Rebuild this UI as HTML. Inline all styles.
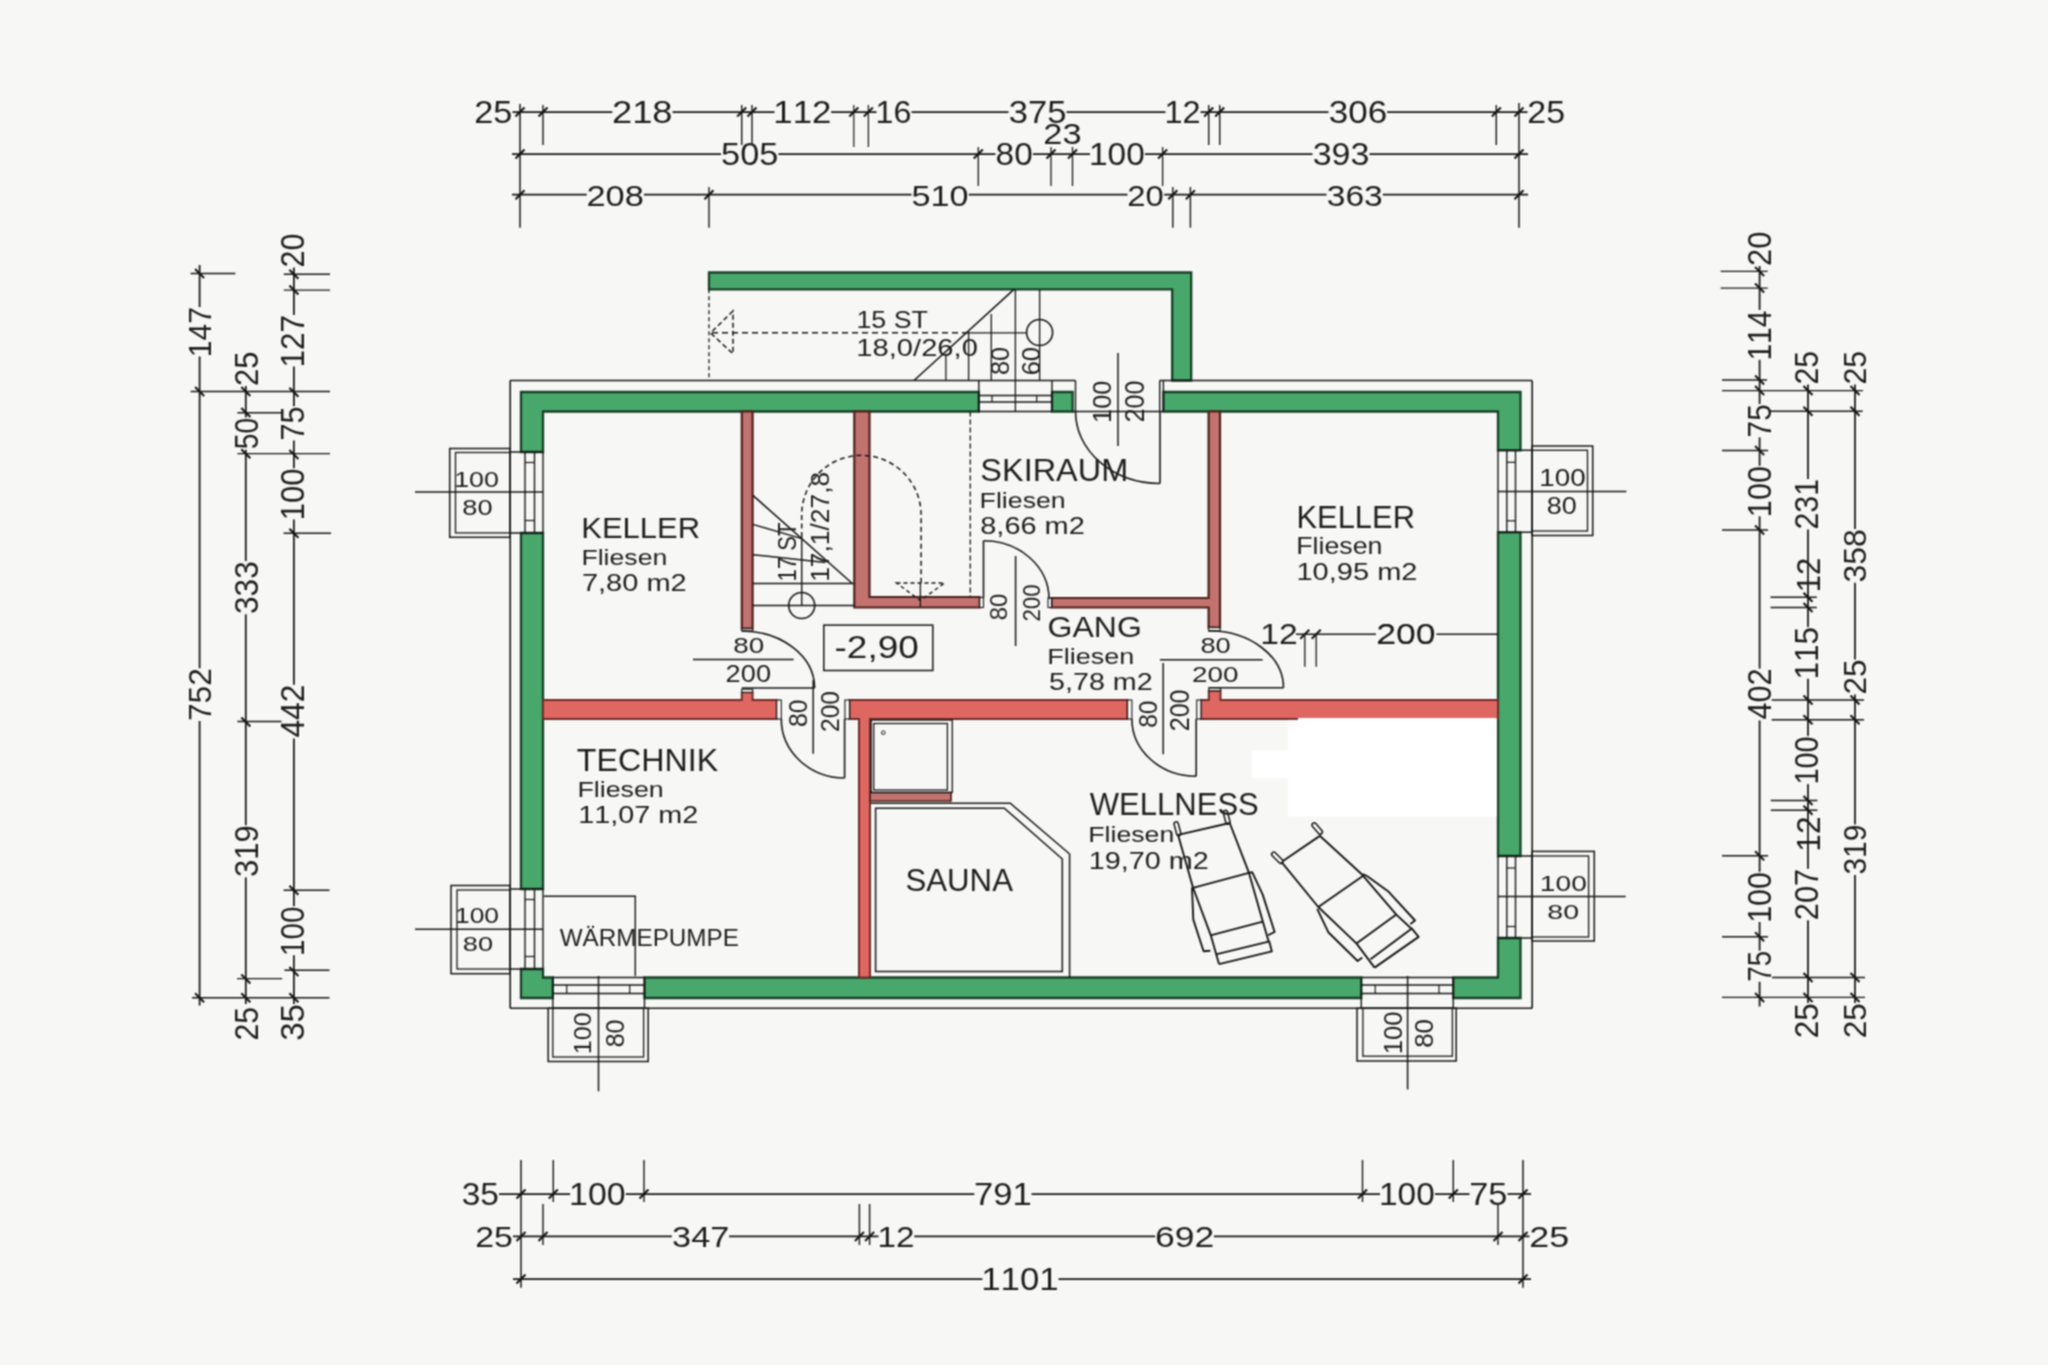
<!DOCTYPE html>
<html><head><meta charset="utf-8"><style>
html,body{margin:0;padding:0;background:#f7f8f6;}
svg{display:block;}
text{font-family:"Liberation Sans",sans-serif;fill:#1e1e1e;stroke:none;font-kerning:none;}
</style></head><body>
<svg xmlns="http://www.w3.org/2000/svg" width="2048" height="1365" viewBox="0 0 2048 1365">
<defs><filter id="b" x="0" y="0" width="2048" height="1365" filterUnits="userSpaceOnUse" color-interpolation-filters="sRGB"><feConvolveMatrix order="3" kernelMatrix="1 2 1 2 4 2 1 2 1" divisor="16" edgeMode="duplicate"/></filter></defs>
<g filter="url(#b)">
<rect width="2048" height="1365" fill="#f7f8f6"/>
<g stroke="#161616" stroke-linecap="butt" fill="none">
<path d="M709 272.5 L1191.2 272.5 L1191.2 380.5 L1172.2 380.5 L1172.2 289.3 L709 289.3 Z" fill="#48a86c" stroke="#173f26" stroke-width="2.3" stroke-linejoin="miter"/>
<path d="M521 392 L978.8 392 L978.8 411.5 L543 411.5 L543 452 L521 452 Z" fill="#48a86c" stroke="#173f26" stroke-width="2.3" stroke-linejoin="miter"/>
<path d="M1052 392 L1072.6 392 L1072.6 411.5 L1052 411.5 Z" fill="#48a86c" stroke="#173f26" stroke-width="2.3" stroke-linejoin="miter"/>
<path d="M1163.4 392 L1520.5 392 L1520.5 450.3 L1498 450.3 L1498 411.5 L1163.4 411.5 Z" fill="#48a86c" stroke="#173f26" stroke-width="2.3" stroke-linejoin="miter"/>
<path d="M521 533 L543 533 L543 889 L521 889 Z" fill="#48a86c" stroke="#173f26" stroke-width="2.3" stroke-linejoin="miter"/>
<path d="M1498 532.3 L1520.5 532.3 L1520.5 856 L1498 856 Z" fill="#48a86c" stroke="#173f26" stroke-width="2.3" stroke-linejoin="miter"/>
<path d="M521 969 L543 969 L543 977.5 L552.8 977.5 L552.8 998 L521 998 Z" fill="#48a86c" stroke="#173f26" stroke-width="2.3" stroke-linejoin="miter"/>
<path d="M644.5 977.5 L1361.3 977.5 L1361.3 998 L644.5 998 Z" fill="#48a86c" stroke="#173f26" stroke-width="2.3" stroke-linejoin="miter"/>
<path d="M1453.3 977.5 L1498 977.5 L1498 938 L1520.5 938 L1520.5 998 L1453.3 998 Z" fill="#48a86c" stroke="#173f26" stroke-width="2.3" stroke-linejoin="miter"/>
<path d="M741.8 411.5 L752.6 411.5 L752.6 628.7 L741.8 628.7 Z" fill="#c27370" stroke="#4e201c" stroke-width="2.2" stroke-linejoin="miter"/>
<path d="M854.3 411.5 L869.5 411.5 L869.5 597 L979.7 597 L979.7 607.5 L854.3 607.5 Z" fill="#c27370" stroke="#4e201c" stroke-width="2.2" stroke-linejoin="miter"/>
<path d="M1051.5 598 L1208.6 598 L1208.6 411.5 L1220 411.5 L1220 627.6 L1208.6 627.6 L1208.6 607.5 L1051.5 607.5 Z" fill="#c27370" stroke="#4e201c" stroke-width="2.2" stroke-linejoin="miter"/>
<path d="M543 700 L741.8 700 L741.8 692.3 L752.6 692.3 L752.6 700 L776.7 700 L776.7 719 L543 719 Z" fill="#de6762" stroke="#6e2c28" stroke-width="2" stroke-linejoin="miter"/>
<path d="M849.5 700 L1127.5 700 L1127.5 719 L870 719 L870 977.5 L859 977.5 L859 719 L849.5 719 Z" fill="#de6762" stroke="#6e2c28" stroke-width="2" stroke-linejoin="miter"/>
<path d="M1201 700 L1208.8 700 L1208.8 690.8 L1220.5 690.8 L1220.5 700 L1498 700 L1498 719 L1201 719 Z" fill="#de6762" stroke="#6e2c28" stroke-width="2" stroke-linejoin="miter"/>
<path d="M870 792.5 L951 792.5 L951 801 L870 801 Z" fill="#c27370" stroke="#4e201c" stroke-width="1.7" stroke-linejoin="miter"/>
<rect x="741.8" y="628.7" width="10.8" height="2.3" fill="#f7f7f5" stroke-width="1.1"/>
<rect x="741.8" y="689.2" width="10.8" height="3.1" fill="#f7f7f5" stroke-width="1.1"/>
<rect x="1208.6" y="627.6" width="11.4" height="3.4" fill="#f7f7f5" stroke-width="1.1"/>
<rect x="1208.8" y="687.8" width="11.7" height="3" fill="#f7f7f5" stroke-width="1.1"/>
<rect x="776.7" y="700" width="4.6" height="19" fill="#f7f7f5" stroke-width="1.1"/>
<rect x="844.9" y="700" width="4.6" height="19" fill="#f7f7f5" stroke-width="1.1"/>
<rect x="1127.5" y="700" width="4.4" height="19" fill="#f7f7f5" stroke-width="1.1"/>
<rect x="1196.7" y="700" width="4.3" height="19" fill="#f7f7f5" stroke-width="1.1"/>
<rect x="979.7" y="597.5" width="3.8" height="10" fill="#f7f7f5" stroke-width="1.1"/>
<rect x="1048" y="598" width="3.5" height="9.5" fill="#f7f7f5" stroke-width="1.1"/>
<line x1="510" y1="380.5" x2="1075.5" y2="380.5" stroke-width="1.6"/>
<line x1="1159.7" y1="380.5" x2="1532" y2="380.5" stroke-width="1.6"/>
<line x1="510.2" y1="380.5" x2="510.2" y2="1008.3" stroke-width="1.6"/>
<line x1="1532.2" y1="380.5" x2="1532.2" y2="1008.3" stroke-width="1.6"/>
<line x1="510.2" y1="1008.3" x2="1532.2" y2="1008.3" stroke-width="1.6"/>
<line x1="1075.5" y1="380.5" x2="1075.5" y2="411.5" stroke-width="1.4"/>
<line x1="1163.4" y1="380.5" x2="1163.4" y2="411.5" stroke-width="1.4"/>
<line x1="1159.7" y1="380.5" x2="1159.7" y2="411.5" stroke-width="1.4"/>
<line x1="1072.6" y1="411.5" x2="1163.4" y2="411.5" stroke-width="1.4"/>
<line x1="1160" y1="411.5" x2="1160" y2="483.5" stroke-width="1.6"/>
<path d="M1075.5 411.5 A84.5 72 0 0 0 1160 483.5" fill="none" stroke-width="1.6"/>
<line x1="978.8" y1="380.5" x2="978.8" y2="411.5" stroke-width="1.4"/>
<line x1="1052" y1="380.5" x2="1052" y2="411.5" stroke-width="1.4"/>
<line x1="978.8" y1="395.5" x2="1052" y2="395.5" stroke-width="1.4"/>
<line x1="978.8" y1="402" x2="1052" y2="402" stroke-width="1.4"/>
<line x1="978.8" y1="411.5" x2="1052" y2="411.5" stroke-width="1.4"/>
<line x1="992" y1="395.5" x2="992" y2="402" stroke-width="1.2"/>
<line x1="1036.7" y1="395.5" x2="1036.7" y2="402" stroke-width="1.2"/>
<line x1="525" y1="452" x2="525" y2="533" stroke-width="1.4"/>
<line x1="534.5" y1="452" x2="534.5" y2="533" stroke-width="1.4"/>
<line x1="510.2" y1="452" x2="543" y2="452" stroke-width="1.4"/>
<line x1="510.2" y1="533" x2="543" y2="533" stroke-width="1.4"/>
<line x1="543" y1="452" x2="543" y2="533" stroke-width="1.4"/>
<line x1="525" y1="462.5" x2="534.5" y2="462.5" stroke-width="1.2"/>
<line x1="525" y1="520.5" x2="534.5" y2="520.5" stroke-width="1.2"/>
<line x1="525" y1="889" x2="525" y2="969" stroke-width="1.4"/>
<line x1="534.5" y1="889" x2="534.5" y2="969" stroke-width="1.4"/>
<line x1="510.2" y1="889" x2="543" y2="889" stroke-width="1.4"/>
<line x1="510.2" y1="969" x2="543" y2="969" stroke-width="1.4"/>
<line x1="543" y1="889" x2="543" y2="969" stroke-width="1.4"/>
<line x1="525" y1="899.5" x2="534.5" y2="899.5" stroke-width="1.2"/>
<line x1="525" y1="956.5" x2="534.5" y2="956.5" stroke-width="1.2"/>
<line x1="1506.8" y1="450.3" x2="1506.8" y2="532.3" stroke-width="1.4"/>
<line x1="1515.5" y1="450.3" x2="1515.5" y2="532.3" stroke-width="1.4"/>
<line x1="1498" y1="450.3" x2="1532.2" y2="450.3" stroke-width="1.4"/>
<line x1="1498" y1="532.3" x2="1532.2" y2="532.3" stroke-width="1.4"/>
<line x1="1498" y1="450.3" x2="1498" y2="532.3" stroke-width="1.4"/>
<line x1="1506.8" y1="462.3" x2="1515.5" y2="462.3" stroke-width="1.2"/>
<line x1="1506.8" y1="520.8" x2="1515.5" y2="520.8" stroke-width="1.2"/>
<line x1="1506.8" y1="856" x2="1506.8" y2="938" stroke-width="1.4"/>
<line x1="1515.5" y1="856" x2="1515.5" y2="938" stroke-width="1.4"/>
<line x1="1498" y1="856" x2="1532.2" y2="856" stroke-width="1.4"/>
<line x1="1498" y1="938" x2="1532.2" y2="938" stroke-width="1.4"/>
<line x1="1498" y1="856" x2="1498" y2="938" stroke-width="1.4"/>
<line x1="1506.8" y1="868" x2="1515.5" y2="868" stroke-width="1.2"/>
<line x1="1506.8" y1="926.5" x2="1515.5" y2="926.5" stroke-width="1.2"/>
<rect x="449.7" y="448.5" width="60.5" height="88.8" fill="none" stroke-width="1.5"/>
<rect x="455.5" y="452.5" width="54.7" height="80.4" fill="none" stroke-width="1.3"/>
<line x1="415" y1="492" x2="543" y2="492" stroke-width="1.5"/>
<rect x="451" y="885.5" width="59.2" height="88.2" fill="none" stroke-width="1.5"/>
<rect x="457" y="890" width="53.2" height="79" fill="none" stroke-width="1.3"/>
<line x1="415" y1="929.3" x2="543" y2="929.3" stroke-width="1.5"/>
<rect x="1532.2" y="446" width="60.5" height="89.5" fill="none" stroke-width="1.5"/>
<rect x="1532.2" y="450.3" width="55.3" height="80.7" fill="none" stroke-width="1.3"/>
<line x1="1498" y1="491.6" x2="1626.4" y2="491.6" stroke-width="1.5"/>
<rect x="1532.2" y="851.4" width="62.1" height="89.6" fill="none" stroke-width="1.5"/>
<rect x="1532.2" y="856" width="56.4" height="81" fill="none" stroke-width="1.3"/>
<line x1="1498" y1="896.6" x2="1625.7" y2="896.6" stroke-width="1.5"/>
<line x1="552.8" y1="977.5" x2="552.8" y2="1008.3" stroke-width="1.4"/>
<line x1="644.5" y1="977.5" x2="644.5" y2="1008.3" stroke-width="1.4"/>
<line x1="552.8" y1="977.5" x2="644.5" y2="977.5" stroke-width="1.4"/>
<line x1="552.8" y1="985" x2="644.5" y2="985" stroke-width="1.4"/>
<line x1="552.8" y1="993.5" x2="644.5" y2="993.5" stroke-width="1.4"/>
<line x1="566.7" y1="985" x2="566.7" y2="993.5" stroke-width="1.2"/>
<line x1="629.7" y1="985" x2="629.7" y2="993.5" stroke-width="1.2"/>
<line x1="1361.3" y1="977.5" x2="1361.3" y2="1008.3" stroke-width="1.4"/>
<line x1="1453.3" y1="977.5" x2="1453.3" y2="1008.3" stroke-width="1.4"/>
<line x1="1361.3" y1="977.5" x2="1453.3" y2="977.5" stroke-width="1.4"/>
<line x1="1361.3" y1="985" x2="1453.3" y2="985" stroke-width="1.4"/>
<line x1="1361.3" y1="993.5" x2="1453.3" y2="993.5" stroke-width="1.4"/>
<line x1="1375.2" y1="985" x2="1375.2" y2="993.5" stroke-width="1.2"/>
<line x1="1439" y1="985" x2="1439" y2="993.5" stroke-width="1.2"/>
<rect x="548.2" y="1008.3" width="100" height="53.2" fill="none" stroke-width="1.5"/>
<rect x="552.8" y="1008.3" width="90.8" height="48.7" fill="none" stroke-width="1.3"/>
<line x1="598.5" y1="976" x2="598.5" y2="1091.3" stroke-width="1.5"/>
<rect x="1357" y="1008.3" width="99.2" height="52.7" fill="none" stroke-width="1.5"/>
<rect x="1362.9" y="1008.3" width="89.5" height="47.9" fill="none" stroke-width="1.3"/>
<line x1="1407.6" y1="976" x2="1407.6" y2="1089.5" stroke-width="1.5"/>
<line x1="709" y1="289.3" x2="709" y2="380.5" stroke-width="1.3" stroke-dasharray="4 3"/>
<line x1="914" y1="380.5" x2="1014" y2="289.3" stroke-width="1.6"/>
<line x1="945.9" y1="353.7" x2="945.9" y2="380.5" stroke-width="1.3"/>
<line x1="968.6" y1="331.8" x2="968.6" y2="380.5" stroke-width="1.3"/>
<line x1="991.3" y1="314" x2="991.3" y2="380.5" stroke-width="1.3"/>
<line x1="1015.4" y1="289.3" x2="1015.4" y2="411.5" stroke-width="1.3"/>
<line x1="1039.6" y1="289.3" x2="1039.6" y2="380.5" stroke-width="1.3"/>
<circle cx="1039.6" cy="332.5" r="13" stroke-width="1.6"/>
<line x1="712" y1="332.8" x2="968" y2="332.8" stroke-width="1.4" stroke-dasharray="6 4"/>
<line x1="968" y1="332.8" x2="1026.6" y2="332.8" stroke-width="1.3"/>
<path d="M733 311 L710.5 333 L733 353.7 Z" fill="none" stroke-width="1.5" stroke-dasharray="5 3"/>
<line x1="752.9" y1="495.4" x2="851.8" y2="583" stroke-width="1.6"/>
<line x1="752.9" y1="524.4" x2="801.7" y2="538.6" stroke-width="1.5"/>
<line x1="752.9" y1="554.7" x2="825.4" y2="562.6" stroke-width="1.5"/>
<line x1="752.6" y1="583.5" x2="854.3" y2="583.5" stroke-width="1.5"/>
<line x1="752.6" y1="605.5" x2="854.3" y2="605.5" stroke-width="1.5"/>
<circle cx="801.7" cy="605.5" r="13" stroke-width="1.6"/>
<line x1="801.7" y1="537" x2="801.7" y2="605.5" stroke-width="1.4"/>
<path d="M801.7 537 L801.7 515 A59.7 59.7 0 0 1 921.1 515 L921.1 583" fill="none" stroke-width="1.5" stroke-dasharray="5 3.5"/>
<path d="M896.5 583 L944.5 583 L920.4 600.5 Z" fill="none" stroke-width="1.4" stroke-dasharray="4 3"/>
<line x1="920.4" y1="583" x2="920.4" y2="607" stroke-width="1.3"/>
<line x1="970.3" y1="411.5" x2="970.3" y2="597.5" stroke-width="1.3" stroke-dasharray="5 3"/>
<line x1="741.8" y1="688" x2="814.6" y2="688" stroke-width="1.6"/>
<path d="M741.8 631 A72.8 57 0 0 1 814.6 688" fill="none" stroke-width="1.6"/>
<line x1="983.5" y1="540.7" x2="983.5" y2="598" stroke-width="1.6"/>
<path d="M983.5 540.7 A65.5 58.3 0 0 1 1049 599" fill="none" stroke-width="1.6"/>
<line x1="844.6" y1="719" x2="844.6" y2="778" stroke-width="1.6"/>
<path d="M781.3 719 A63.3 59 0 0 0 844.6 778" fill="none" stroke-width="1.6"/>
<line x1="1196.2" y1="719" x2="1196.2" y2="776.3" stroke-width="1.6"/>
<path d="M1131.9 719 A64.3 57.3 0 0 0 1196.2 776.3" fill="none" stroke-width="1.6"/>
<line x1="1208.8" y1="687.8" x2="1283.5" y2="687.8" stroke-width="1.6"/>
<path d="M1283.5 687.8 A74.7 57 0 0 0 1208.8 630.8" fill="none" stroke-width="1.6"/>
<line x1="693" y1="659.5" x2="793.6" y2="659.5" stroke-width="1.5"/>
<line x1="813.2" y1="680" x2="813.2" y2="753.8" stroke-width="1.5"/>
<line x1="1015.6" y1="556" x2="1015.6" y2="646" stroke-width="1.5"/>
<line x1="1163.2" y1="663" x2="1163.2" y2="754.3" stroke-width="1.5"/>
<line x1="1159.9" y1="659.8" x2="1262.6" y2="659.8" stroke-width="1.5"/>
<line x1="1118" y1="353" x2="1118" y2="446" stroke-width="1.5"/>
<rect x="871.2" y="720" width="81.1" height="72.5" fill="none" stroke-width="1.3"/>
<rect x="873.7" y="723.5" width="73.7" height="66.5" fill="none" stroke-width="1.3"/>
<circle cx="883.3" cy="732.7" r="1.8" stroke-width="1"/>
<path d="M871 803.3 L1010.3 803.3 L1069.6 854 L1069.6 977.5" fill="none" stroke-width="1.5"/>
<path d="M875.6 808.2 L1004.3 808.2 L1062.3 859 L1062.3 971.4 L875.6 971.4 Z" fill="none" stroke-width="1.5"/>
<rect x="823.8" y="625.1" width="109" height="45.4" fill="none" stroke-width="1.5"/>
<line x1="1176.2" y1="824" x2="1178.7" y2="833.5" stroke-width="5.8" stroke-linecap="round"/>
<line x1="1176.2" y1="824" x2="1178.7" y2="833.5" stroke-width="2.8" stroke-linecap="round" stroke="#f7f8f6"/>
<line x1="1225.4" y1="812.5" x2="1227.9" y2="822" stroke-width="5.8" stroke-linecap="round"/>
<line x1="1225.4" y1="812.5" x2="1227.9" y2="822" stroke-width="2.8" stroke-linecap="round" stroke="#f7f8f6"/>
<path d="M1178.1 834.9 L1229.7 823" fill="none" stroke-width="1.9" stroke-linejoin="round"/>
<path d="M1178.1 834.9 L1193 887.5 L1210.8 935.3 L1219 964" fill="none" stroke-width="1.9" stroke-linejoin="round"/>
<path d="M1229.7 823 L1249 872.9 L1262.8 921.5 L1268.6 941.2" fill="none" stroke-width="1.9" stroke-linejoin="round"/>
<path d="M1193 887.8 L1249 872.9" fill="none" stroke-width="1.9" stroke-linejoin="round"/>
<path d="M1210.6 935.3 L1262.8 921.6" fill="none" stroke-width="1.9" stroke-linejoin="round"/>
<path d="M1216 954.4 L1269.6 941.3" fill="none" stroke-width="1.9" stroke-linejoin="round"/>
<path d="M1219 964.2 L1271.8 951.3 L1269.2 941.3" fill="none" stroke-width="1.9" stroke-linejoin="round"/>
<path d="M1192 887.4 L1193.3 919.6 L1203.6 951.3 L1210.4 950.7" fill="none" stroke-width="1.9" stroke-linejoin="round"/>
<path d="M1249 872.9 L1252.2 872.2 L1262.7 894.6 L1274.6 932 L1268.3 935.1" fill="none" stroke-width="1.9" stroke-linejoin="round"/>
<line x1="1273.8" y1="854.3" x2="1280.8" y2="861.3" stroke-width="5.8" stroke-linecap="round"/>
<line x1="1273.8" y1="854.3" x2="1280.8" y2="861.3" stroke-width="2.8" stroke-linecap="round" stroke="#f7f8f6"/>
<line x1="1314.2" y1="825" x2="1320.2" y2="832" stroke-width="5.8" stroke-linecap="round"/>
<line x1="1314.2" y1="825" x2="1320.2" y2="832" stroke-width="2.8" stroke-linecap="round" stroke="#f7f8f6"/>
<path d="M1282.6 861.3 L1319.5 836.1" fill="none" stroke-width="1.9" stroke-linejoin="round"/>
<path d="M1281.4 861.9 L1318.3 907 L1356.4 943.4 L1374.6 967.6" fill="none" stroke-width="1.9" stroke-linejoin="round"/>
<path d="M1319.5 835.5 L1362.3 874.8 L1396.3 914.6 L1411.5 928.7" fill="none" stroke-width="1.9" stroke-linejoin="round"/>
<path d="M1318.3 907 L1362.9 876" fill="none" stroke-width="1.9" stroke-linejoin="round"/>
<path d="M1356.4 943.4 L1396.3 914.6" fill="none" stroke-width="1.9" stroke-linejoin="round"/>
<path d="M1370.5 959.2 L1411.5 928.7" fill="none" stroke-width="1.9" stroke-linejoin="round"/>
<path d="M1374.6 967.6 L1418.6 936.9 L1411.5 928.1" fill="none" stroke-width="1.9" stroke-linejoin="round"/>
<path d="M1317.2 908.8 L1328.3 932.2 L1357.6 961 L1362.3 957.4" fill="none" stroke-width="1.9" stroke-linejoin="round"/>
<path d="M1362.9 874.2 L1367 876 L1388 891.2 L1415 920.5 L1410.4 924" fill="none" stroke-width="1.9" stroke-linejoin="round"/>
<rect x="1298" y="718.0" width="198.8" height="98.3" fill="#ffffff" stroke="none"/>
<rect x="1288.2" y="719.9" width="10" height="96.4" fill="#ffffff" stroke="none"/>
<rect x="1252" y="750.6" width="37" height="27.4" fill="#ffffff" stroke="none"/>
<line x1="512.5" y1="112" x2="612.3" y2="112" stroke-width="1.75"/>
<line x1="672.5" y1="112" x2="774.5" y2="112" stroke-width="1.75"/>
<line x1="831.1" y1="112" x2="876.5" y2="112" stroke-width="1.75"/>
<line x1="911.5" y1="112" x2="1008.5" y2="112" stroke-width="1.75"/>
<line x1="1066.5" y1="112" x2="1165.5" y2="112" stroke-width="1.75"/>
<line x1="1200.5" y1="112" x2="1328.5" y2="112" stroke-width="1.75"/>
<line x1="1387.2" y1="112" x2="1527.5" y2="112" stroke-width="1.75"/>
<line x1="515.5" y1="116.5" x2="524.5" y2="107.5" stroke-width="2.1"/>
<line x1="538.5" y1="116.5" x2="547.5" y2="107.5" stroke-width="2.1"/>
<line x1="737.2" y1="116.5" x2="746.2" y2="107.5" stroke-width="2.1"/>
<line x1="747.5" y1="116.5" x2="756.5" y2="107.5" stroke-width="2.1"/>
<line x1="849.3" y1="116.5" x2="858.3" y2="107.5" stroke-width="2.1"/>
<line x1="863.9" y1="116.5" x2="872.9" y2="107.5" stroke-width="2.1"/>
<line x1="1204.2" y1="116.5" x2="1213.2" y2="107.5" stroke-width="2.1"/>
<line x1="1215.2" y1="116.5" x2="1224.2" y2="107.5" stroke-width="2.1"/>
<line x1="1491.8" y1="116.5" x2="1500.8" y2="107.5" stroke-width="2.1"/>
<line x1="1514.5" y1="116.5" x2="1523.5" y2="107.5" stroke-width="2.1"/>
<text x="474.27" y="123.2" font-size="30.71" textLength="38.17" lengthAdjust="spacingAndGlyphs">25</text>
<text x="611.97" y="123.2" font-size="30.71" textLength="60.61" lengthAdjust="spacingAndGlyphs">218</text>
<text x="773.35" y="123.2" font-size="30.71" textLength="58" lengthAdjust="spacingAndGlyphs">112</text>
<text x="875.54" y="123.2" font-size="30.71" textLength="35.87" lengthAdjust="spacingAndGlyphs">16</text>
<text x="1008.68" y="123.2" font-size="30.71" textLength="57.77" lengthAdjust="spacingAndGlyphs">375</text>
<text x="1164.53" y="123.2" font-size="30.71" textLength="36.11" lengthAdjust="spacingAndGlyphs">12</text>
<text x="1328.66" y="123.2" font-size="30.71" textLength="58.58" lengthAdjust="spacingAndGlyphs">306</text>
<text x="1527.29" y="123.2" font-size="30.71" textLength="37.84" lengthAdjust="spacingAndGlyphs">25</text>
<line x1="512" y1="154" x2="721" y2="154" stroke-width="1.75"/>
<line x1="778.5" y1="154" x2="995.5" y2="154" stroke-width="1.75"/>
<line x1="1033" y1="154" x2="1090" y2="154" stroke-width="1.75"/>
<line x1="1145" y1="154" x2="1312.5" y2="154" stroke-width="1.75"/>
<line x1="1369.5" y1="154" x2="1528" y2="154" stroke-width="1.75"/>
<line x1="515.5" y1="158.5" x2="524.5" y2="149.5" stroke-width="2.1"/>
<line x1="973.8" y1="158.5" x2="982.8" y2="149.5" stroke-width="2.1"/>
<line x1="1046.5" y1="158.5" x2="1055.5" y2="149.5" stroke-width="2.1"/>
<line x1="1068" y1="158.5" x2="1077" y2="149.5" stroke-width="2.1"/>
<line x1="1158.1" y1="158.5" x2="1167.1" y2="149.5" stroke-width="2.1"/>
<line x1="1514.5" y1="158.5" x2="1523.5" y2="149.5" stroke-width="2.1"/>
<text x="721.12" y="164.8" font-size="30.43" textLength="57.32" lengthAdjust="spacingAndGlyphs">505</text>
<text x="995.54" y="164.8" font-size="30.43" textLength="37.26" lengthAdjust="spacingAndGlyphs">80</text>
<text x="1088.95" y="164.8" font-size="30.43" textLength="55.86" lengthAdjust="spacingAndGlyphs">100</text>
<text x="1312.7" y="164.8" font-size="30.43" textLength="56.79" lengthAdjust="spacingAndGlyphs">393</text>
<text x="1043.27" y="144" font-size="29" textLength="38.24" lengthAdjust="spacingAndGlyphs">23</text>
<line x1="512" y1="194.7" x2="586.7" y2="194.7" stroke-width="1.75"/>
<line x1="643.9" y1="194.7" x2="911.5" y2="194.7" stroke-width="1.75"/>
<line x1="968.8" y1="194.7" x2="1127.5" y2="194.7" stroke-width="1.75"/>
<line x1="1164.1" y1="194.7" x2="1326.5" y2="194.7" stroke-width="1.75"/>
<line x1="1382.8" y1="194.7" x2="1528" y2="194.7" stroke-width="1.75"/>
<line x1="515.5" y1="199.2" x2="524.5" y2="190.2" stroke-width="2.1"/>
<line x1="704.5" y1="199.2" x2="713.5" y2="190.2" stroke-width="2.1"/>
<line x1="1168.3" y1="199.2" x2="1177.3" y2="190.2" stroke-width="2.1"/>
<line x1="1185.9" y1="199.2" x2="1194.9" y2="190.2" stroke-width="2.1"/>
<line x1="1514.5" y1="199.2" x2="1523.5" y2="190.2" stroke-width="2.1"/>
<text x="586.47" y="205.5" font-size="30" textLength="57.43" lengthAdjust="spacingAndGlyphs">208</text>
<text x="911.63" y="205.5" font-size="30" textLength="57" lengthAdjust="spacingAndGlyphs">510</text>
<text x="1127.35" y="205.5" font-size="30" textLength="36.53" lengthAdjust="spacingAndGlyphs">20</text>
<text x="1326.72" y="205.5" font-size="30" textLength="56.06" lengthAdjust="spacingAndGlyphs">363</text>
<line x1="520" y1="104" x2="520" y2="227.7" stroke-width="1.5"/>
<line x1="1519" y1="103" x2="1519" y2="227.7" stroke-width="1.5"/>
<line x1="543" y1="105" x2="543" y2="145" stroke-width="1.4"/>
<line x1="741.7" y1="105" x2="741.7" y2="145" stroke-width="1.4"/>
<line x1="752" y1="105" x2="752" y2="145" stroke-width="1.4"/>
<line x1="1208.7" y1="105" x2="1208.7" y2="145" stroke-width="1.4"/>
<line x1="1219.7" y1="105" x2="1219.7" y2="145" stroke-width="1.4"/>
<line x1="1496.3" y1="105" x2="1496.3" y2="145" stroke-width="1.4"/>
<line x1="853.8" y1="105" x2="853.8" y2="147" stroke-width="1.2"/>
<line x1="868.4" y1="105" x2="868.4" y2="147" stroke-width="1.2"/>
<line x1="978.3" y1="147" x2="978.3" y2="186" stroke-width="1.3"/>
<line x1="1051" y1="147" x2="1051" y2="186" stroke-width="1.3"/>
<line x1="1072.5" y1="147" x2="1072.5" y2="186" stroke-width="1.3"/>
<line x1="1162.6" y1="147" x2="1162.6" y2="186" stroke-width="1.3"/>
<line x1="709" y1="187" x2="709" y2="227.7" stroke-width="1.4"/>
<line x1="1172.8" y1="187" x2="1172.8" y2="227.7" stroke-width="1.4"/>
<line x1="1190.4" y1="187" x2="1190.4" y2="227.7" stroke-width="1.4"/>
<line x1="499.1" y1="1194" x2="570.1" y2="1194" stroke-width="1.75"/>
<line x1="625.8" y1="1194" x2="974.3" y2="1194" stroke-width="1.75"/>
<line x1="1031.5" y1="1194" x2="1380" y2="1194" stroke-width="1.75"/>
<line x1="1435" y1="1194" x2="1469.5" y2="1194" stroke-width="1.75"/>
<line x1="1507.5" y1="1194" x2="1531" y2="1194" stroke-width="1.75"/>
<line x1="516.5" y1="1198.5" x2="525.5" y2="1189.5" stroke-width="2.1"/>
<line x1="548.8" y1="1198.5" x2="557.8" y2="1189.5" stroke-width="2.1"/>
<line x1="639.5" y1="1198.5" x2="648.5" y2="1189.5" stroke-width="2.1"/>
<line x1="1358" y1="1198.5" x2="1367" y2="1189.5" stroke-width="2.1"/>
<line x1="1448.8" y1="1198.5" x2="1457.8" y2="1189.5" stroke-width="2.1"/>
<line x1="1518.5" y1="1198.5" x2="1527.5" y2="1189.5" stroke-width="2.1"/>
<text x="461.72" y="1205" font-size="30.43" textLength="37.28" lengthAdjust="spacingAndGlyphs">35</text>
<text x="569.02" y="1205" font-size="30.43" textLength="56.61" lengthAdjust="spacingAndGlyphs">100</text>
<text x="974.03" y="1205" font-size="30.43" textLength="57.66" lengthAdjust="spacingAndGlyphs">791</text>
<text x="1378.95" y="1205" font-size="30.43" textLength="55.86" lengthAdjust="spacingAndGlyphs">100</text>
<text x="1469.24" y="1205" font-size="30.43" textLength="38.2" lengthAdjust="spacingAndGlyphs">75</text>
<line x1="513" y1="1236.4" x2="671.9" y2="1236.4" stroke-width="1.75"/>
<line x1="729.1" y1="1236.4" x2="878.5" y2="1236.4" stroke-width="1.75"/>
<line x1="914.3" y1="1236.4" x2="1155.2" y2="1236.4" stroke-width="1.75"/>
<line x1="1213.9" y1="1236.4" x2="1529.5" y2="1236.4" stroke-width="1.75"/>
<line x1="516.5" y1="1240.9" x2="525.5" y2="1231.9" stroke-width="2.1"/>
<line x1="538.5" y1="1240.9" x2="547.5" y2="1231.9" stroke-width="2.1"/>
<line x1="854.9" y1="1240.9" x2="863.9" y2="1231.9" stroke-width="2.1"/>
<line x1="865.1" y1="1240.9" x2="874.1" y2="1231.9" stroke-width="2.1"/>
<line x1="1493.5" y1="1240.9" x2="1502.5" y2="1231.9" stroke-width="2.1"/>
<line x1="1518.5" y1="1240.9" x2="1527.5" y2="1231.9" stroke-width="2.1"/>
<text x="475.3" y="1247.4" font-size="30.29" textLength="37.62" lengthAdjust="spacingAndGlyphs">25</text>
<text x="672.09" y="1247.4" font-size="30.29" textLength="57.23" lengthAdjust="spacingAndGlyphs">347</text>
<text x="877.47" y="1247.4" font-size="30.29" textLength="37.01" lengthAdjust="spacingAndGlyphs">12</text>
<text x="1154.9" y="1247.4" font-size="30.29" textLength="59.29" lengthAdjust="spacingAndGlyphs">692</text>
<text x="1529.2" y="1247.4" font-size="30.29" textLength="39.91" lengthAdjust="spacingAndGlyphs">25</text>
<line x1="513" y1="1279" x2="982.4" y2="1279" stroke-width="1.75"/>
<line x1="1058.5" y1="1279" x2="1531" y2="1279" stroke-width="1.75"/>
<line x1="516.5" y1="1283.5" x2="525.5" y2="1274.5" stroke-width="2.1"/>
<line x1="1518.5" y1="1283.5" x2="1527.5" y2="1274.5" stroke-width="2.1"/>
<text x="981.25" y="1290" font-size="30.71" textLength="77.45" lengthAdjust="spacingAndGlyphs">1101</text>
<line x1="521" y1="1160" x2="521" y2="1287.7" stroke-width="1.5"/>
<line x1="1523" y1="1160" x2="1523" y2="1287.7" stroke-width="1.5"/>
<line x1="553.3" y1="1160" x2="553.3" y2="1202" stroke-width="1.4"/>
<line x1="644" y1="1160" x2="644" y2="1202" stroke-width="1.4"/>
<line x1="1362.5" y1="1160" x2="1362.5" y2="1202" stroke-width="1.4"/>
<line x1="1453.3" y1="1160" x2="1453.3" y2="1202" stroke-width="1.4"/>
<line x1="543" y1="1204" x2="543" y2="1245" stroke-width="1.4"/>
<line x1="859.4" y1="1204" x2="859.4" y2="1245" stroke-width="1.4"/>
<line x1="869.6" y1="1204" x2="869.6" y2="1245" stroke-width="1.4"/>
<line x1="1498" y1="1204" x2="1498" y2="1245" stroke-width="1.4"/>
<line x1="199.6" y1="265" x2="199.6" y2="307.1" stroke-width="1.75"/>
<line x1="199.6" y1="356.5" x2="199.6" y2="668.2" stroke-width="1.75"/>
<line x1="199.6" y1="721" x2="199.6" y2="1005.5" stroke-width="1.75"/>
<line x1="195.1" y1="269.1" x2="204.1" y2="278.1" stroke-width="2.1"/>
<line x1="195.1" y1="387" x2="204.1" y2="396" stroke-width="2.1"/>
<line x1="195.1" y1="993.3" x2="204.1" y2="1002.3" stroke-width="2.1"/>
<text transform="translate(210.8 355) rotate(-90)" x="-2.29" y="0" font-size="31.71" textLength="50.21" lengthAdjust="spacingAndGlyphs">147</text>
<text transform="translate(210.8 719.5) rotate(-90)" x="-1.63" y="0" font-size="31.71" textLength="53.03" lengthAdjust="spacingAndGlyphs">752</text>
<line x1="245.8" y1="386" x2="245.8" y2="417.5" stroke-width="1.75"/>
<line x1="245.8" y1="449.7" x2="245.8" y2="561.1" stroke-width="1.75"/>
<line x1="245.8" y1="614.3" x2="245.8" y2="825.2" stroke-width="1.75"/>
<line x1="245.8" y1="877.4" x2="245.8" y2="1004" stroke-width="1.75"/>
<line x1="241.3" y1="387" x2="250.3" y2="396" stroke-width="2.1"/>
<line x1="241.3" y1="408.1" x2="250.3" y2="417.1" stroke-width="2.1"/>
<line x1="241.3" y1="449.3" x2="250.3" y2="458.3" stroke-width="2.1"/>
<line x1="241.3" y1="717.5" x2="250.3" y2="726.5" stroke-width="2.1"/>
<line x1="241.3" y1="974.5" x2="250.3" y2="983.5" stroke-width="2.1"/>
<line x1="241.3" y1="993.3" x2="250.3" y2="1002.3" stroke-width="2.1"/>
<text transform="translate(257.6 384.4) rotate(-90)" x="-1.56" y="0" font-size="32.29" textLength="34.46" lengthAdjust="spacingAndGlyphs">25</text>
<text transform="translate(257.6 448.2) rotate(-90)" x="-1.13" y="0" font-size="32.29" textLength="31.44" lengthAdjust="spacingAndGlyphs">50</text>
<text transform="translate(257.6 612.8) rotate(-90)" x="-1.21" y="0" font-size="32.29" textLength="52.8" lengthAdjust="spacingAndGlyphs">333</text>
<text transform="translate(257.6 875.9) rotate(-90)" x="-1.18" y="0" font-size="32.29" textLength="51.86" lengthAdjust="spacingAndGlyphs">319</text>
<text transform="translate(257.6 1039) rotate(-90)" x="-1.52" y="0" font-size="32.29" textLength="33.59" lengthAdjust="spacingAndGlyphs">25</text>
<line x1="293.9" y1="267.4" x2="293.9" y2="315" stroke-width="1.75"/>
<line x1="293.9" y1="366.6" x2="293.9" y2="406.2" stroke-width="1.75"/>
<line x1="293.9" y1="440.5" x2="293.9" y2="468.2" stroke-width="1.75"/>
<line x1="293.9" y1="519.5" x2="293.9" y2="684.7" stroke-width="1.75"/>
<line x1="293.9" y1="738.4" x2="293.9" y2="906.2" stroke-width="1.75"/>
<line x1="293.9" y1="955.3" x2="293.9" y2="1004" stroke-width="1.75"/>
<line x1="289.4" y1="269.8" x2="298.4" y2="278.8" stroke-width="2.1"/>
<line x1="289.4" y1="285.6" x2="298.4" y2="294.6" stroke-width="2.1"/>
<line x1="289.4" y1="387.8" x2="298.4" y2="396.8" stroke-width="2.1"/>
<line x1="289.4" y1="449.9" x2="298.4" y2="458.9" stroke-width="2.1"/>
<line x1="289.4" y1="528.8" x2="298.4" y2="537.8" stroke-width="2.1"/>
<line x1="289.4" y1="885.8" x2="298.4" y2="894.8" stroke-width="2.1"/>
<line x1="289.4" y1="966.9" x2="298.4" y2="975.9" stroke-width="2.1"/>
<line x1="289.4" y1="993.3" x2="298.4" y2="1002.3" stroke-width="2.1"/>
<text transform="translate(304.2 265.9) rotate(-90)" x="-1.53" y="0" font-size="32.29" textLength="33.93" lengthAdjust="spacingAndGlyphs">20</text>
<text transform="translate(304.2 365.1) rotate(-90)" x="-2.4" y="0" font-size="32.29" textLength="52.59" lengthAdjust="spacingAndGlyphs">127</text>
<text transform="translate(304.2 439) rotate(-90)" x="-1.57" y="0" font-size="32.29" textLength="34.16" lengthAdjust="spacingAndGlyphs">75</text>
<text transform="translate(304.2 518) rotate(-90)" x="-2.37" y="0" font-size="32.29" textLength="51.88" lengthAdjust="spacingAndGlyphs">100</text>
<text transform="translate(304.2 736.9) rotate(-90)" x="-0.73" y="0" font-size="32.29" textLength="53.03" lengthAdjust="spacingAndGlyphs">442</text>
<text transform="translate(304.2 953.8) rotate(-90)" x="-2.26" y="0" font-size="32.29" textLength="49.52" lengthAdjust="spacingAndGlyphs">100</text>
<text transform="translate(304.2 1039.6) rotate(-90)" x="-1.26" y="0" font-size="32.29" textLength="36.75" lengthAdjust="spacingAndGlyphs">35</text>
<line x1="190.6" y1="273.5" x2="235.4" y2="273.5" stroke-width="1.4"/>
<line x1="283.8" y1="274.3" x2="330" y2="274.3" stroke-width="1.4"/>
<line x1="283.8" y1="290.1" x2="330" y2="290.1" stroke-width="1.4"/>
<line x1="190.6" y1="391.5" x2="330" y2="391.5" stroke-width="1.4"/>
<line x1="237.4" y1="412.8" x2="282.6" y2="412.8" stroke-width="1.4"/>
<line x1="237.4" y1="453.6" x2="330" y2="453.6" stroke-width="1.4"/>
<line x1="283.6" y1="533.3" x2="331" y2="533.3" stroke-width="1.4"/>
<line x1="237.4" y1="721.5" x2="281.5" y2="721.5" stroke-width="1.4"/>
<line x1="283.6" y1="890.3" x2="329.5" y2="890.3" stroke-width="1.4"/>
<line x1="237.1" y1="978.6" x2="282.2" y2="978.6" stroke-width="1.4"/>
<line x1="284.4" y1="970.3" x2="329.5" y2="970.3" stroke-width="1.4"/>
<line x1="192" y1="997.8" x2="329.5" y2="997.8" stroke-width="1.4"/>
<line x1="1759.6" y1="266" x2="1759.6" y2="309.9" stroke-width="1.75"/>
<line x1="1759.6" y1="359.8" x2="1759.6" y2="404" stroke-width="1.75"/>
<line x1="1759.6" y1="437.4" x2="1759.6" y2="465.8" stroke-width="1.75"/>
<line x1="1759.6" y1="516.3" x2="1759.6" y2="668.6" stroke-width="1.75"/>
<line x1="1759.6" y1="720.4" x2="1759.6" y2="871.9" stroke-width="1.75"/>
<line x1="1759.6" y1="922" x2="1759.6" y2="950.6" stroke-width="1.75"/>
<line x1="1759.6" y1="981.8" x2="1759.6" y2="1006.5" stroke-width="1.75"/>
<line x1="1755.1" y1="266.9" x2="1764.1" y2="275.9" stroke-width="2.1"/>
<line x1="1755.1" y1="283.6" x2="1764.1" y2="292.6" stroke-width="2.1"/>
<line x1="1755.1" y1="375.5" x2="1764.1" y2="384.5" stroke-width="2.1"/>
<line x1="1755.1" y1="386.1" x2="1764.1" y2="395.1" stroke-width="2.1"/>
<line x1="1755.1" y1="446" x2="1764.1" y2="455" stroke-width="2.1"/>
<line x1="1755.1" y1="525.5" x2="1764.1" y2="534.5" stroke-width="2.1"/>
<line x1="1755.1" y1="851.3" x2="1764.1" y2="860.3" stroke-width="2.1"/>
<line x1="1755.1" y1="932.2" x2="1764.1" y2="941.2" stroke-width="2.1"/>
<line x1="1755.1" y1="992.9" x2="1764.1" y2="1001.9" stroke-width="2.1"/>
<text transform="translate(1770.6 264.5) rotate(-90)" x="-1.55" y="0" font-size="33" textLength="34.36" lengthAdjust="spacingAndGlyphs">20</text>
<text transform="translate(1770.6 358.3) rotate(-90)" x="-2.29" y="0" font-size="33" textLength="50.06" lengthAdjust="spacingAndGlyphs">114</text>
<text transform="translate(1770.6 435.9) rotate(-90)" x="-1.53" y="0" font-size="33" textLength="33.18" lengthAdjust="spacingAndGlyphs">75</text>
<text transform="translate(1770.6 514.8) rotate(-90)" x="-2.33" y="0" font-size="33" textLength="51.02" lengthAdjust="spacingAndGlyphs">100</text>
<text transform="translate(1770.6 718.9) rotate(-90)" x="-0.7" y="0" font-size="33" textLength="51.04" lengthAdjust="spacingAndGlyphs">402</text>
<text transform="translate(1770.6 920.5) rotate(-90)" x="-2.31" y="0" font-size="33" textLength="50.59" lengthAdjust="spacingAndGlyphs">100</text>
<text transform="translate(1770.6 980.3) rotate(-90)" x="-1.42" y="0" font-size="33" textLength="30.78" lengthAdjust="spacingAndGlyphs">75</text>
<line x1="1808" y1="384.6" x2="1808" y2="479" stroke-width="1.75"/>
<line x1="1808" y1="529.5" x2="1808" y2="626.9" stroke-width="1.75"/>
<line x1="1808" y1="678.7" x2="1808" y2="736" stroke-width="1.75"/>
<line x1="1808" y1="783.9" x2="1808" y2="868.8" stroke-width="1.75"/>
<line x1="1808" y1="920.2" x2="1808" y2="1003" stroke-width="1.75"/>
<line x1="1803.5" y1="386.1" x2="1812.5" y2="395.1" stroke-width="2.1"/>
<line x1="1803.5" y1="406.7" x2="1812.5" y2="415.7" stroke-width="2.1"/>
<line x1="1803.5" y1="592.8" x2="1812.5" y2="601.8" stroke-width="2.1"/>
<line x1="1803.5" y1="603" x2="1812.5" y2="612" stroke-width="2.1"/>
<line x1="1803.5" y1="695.5" x2="1812.5" y2="704.5" stroke-width="2.1"/>
<line x1="1803.5" y1="715.3" x2="1812.5" y2="724.3" stroke-width="2.1"/>
<line x1="1803.5" y1="796" x2="1812.5" y2="805" stroke-width="2.1"/>
<line x1="1803.5" y1="805.8" x2="1812.5" y2="814.8" stroke-width="2.1"/>
<line x1="1803.5" y1="973" x2="1812.5" y2="982" stroke-width="2.1"/>
<line x1="1803.5" y1="992.9" x2="1812.5" y2="1001.9" stroke-width="2.1"/>
<text transform="translate(1818 383.1) rotate(-90)" x="-1.52" y="0" font-size="32.29" textLength="33.59" lengthAdjust="spacingAndGlyphs">25</text>
<text transform="translate(1818 528) rotate(-90)" x="-1.52" y="0" font-size="32.29" textLength="50.5" lengthAdjust="spacingAndGlyphs">231</text>
<text transform="translate(1818 677.2) rotate(-90)" x="-2.4" y="0" font-size="32.29" textLength="52.52" lengthAdjust="spacingAndGlyphs">115</text>
<text transform="translate(1818 782.4) rotate(-90)" x="-2.2" y="0" font-size="32.29" textLength="48.23" lengthAdjust="spacingAndGlyphs">100</text>
<text transform="translate(1818 918.7) rotate(-90)" x="-1.55" y="0" font-size="32.29" textLength="51.51" lengthAdjust="spacingAndGlyphs">207</text>
<text transform="translate(1818 1036.7) rotate(-90)" x="-1.59" y="0" font-size="32.29" textLength="35.11" lengthAdjust="spacingAndGlyphs">25</text>
<text transform="translate(1819.6 590) rotate(-90)" x="-2.37" y="0" font-size="33.14" textLength="34.64" lengthAdjust="spacingAndGlyphs">12</text>
<text transform="translate(1819.8 849.3) rotate(-90)" x="-2.42" y="0" font-size="33.14" textLength="35.32" lengthAdjust="spacingAndGlyphs">12</text>
<line x1="1855" y1="384.6" x2="1855" y2="529.1" stroke-width="1.75"/>
<line x1="1855" y1="582.8" x2="1855" y2="659.4" stroke-width="1.75"/>
<line x1="1855" y1="694.5" x2="1855" y2="824.5" stroke-width="1.75"/>
<line x1="1855" y1="874.9" x2="1855" y2="1003" stroke-width="1.75"/>
<line x1="1850.5" y1="386.1" x2="1859.5" y2="395.1" stroke-width="2.1"/>
<line x1="1850.5" y1="406.7" x2="1859.5" y2="415.7" stroke-width="2.1"/>
<line x1="1850.5" y1="695.5" x2="1859.5" y2="704.5" stroke-width="2.1"/>
<line x1="1850.5" y1="715.3" x2="1859.5" y2="724.3" stroke-width="2.1"/>
<line x1="1850.5" y1="973" x2="1859.5" y2="982" stroke-width="2.1"/>
<line x1="1850.5" y1="992.9" x2="1859.5" y2="1001.9" stroke-width="2.1"/>
<text transform="translate(1865.8 383.1) rotate(-90)" x="-1.52" y="0" font-size="31.71" textLength="33.59" lengthAdjust="spacingAndGlyphs">25</text>
<text transform="translate(1865.8 581.3) rotate(-90)" x="-1.22" y="0" font-size="31.71" textLength="53.31" lengthAdjust="spacingAndGlyphs">358</text>
<text transform="translate(1865.8 693) rotate(-90)" x="-1.58" y="0" font-size="31.71" textLength="35" lengthAdjust="spacingAndGlyphs">25</text>
<text transform="translate(1865.8 873.4) rotate(-90)" x="-1.14" y="0" font-size="31.71" textLength="49.96" lengthAdjust="spacingAndGlyphs">319</text>
<text transform="translate(1865.8 1036.7) rotate(-90)" x="-1.59" y="0" font-size="31.71" textLength="35.11" lengthAdjust="spacingAndGlyphs">25</text>
<line x1="1720.6" y1="271.4" x2="1767.7" y2="271.4" stroke-width="1.4"/>
<line x1="1720.6" y1="288.1" x2="1767.7" y2="288.1" stroke-width="1.4"/>
<line x1="1722" y1="380" x2="1767" y2="380" stroke-width="1.4"/>
<line x1="1722" y1="390.6" x2="1863" y2="390.6" stroke-width="1.4"/>
<line x1="1770" y1="411.2" x2="1862.7" y2="411.2" stroke-width="1.4"/>
<line x1="1722" y1="450.5" x2="1768" y2="450.5" stroke-width="1.4"/>
<line x1="1722" y1="530" x2="1768" y2="530" stroke-width="1.4"/>
<line x1="1770.5" y1="597.3" x2="1816.8" y2="597.3" stroke-width="1.4"/>
<line x1="1770.5" y1="607.5" x2="1816.8" y2="607.5" stroke-width="1.4"/>
<line x1="1771.7" y1="700" x2="1864" y2="700" stroke-width="1.4"/>
<line x1="1771.7" y1="719.8" x2="1864" y2="719.8" stroke-width="1.4"/>
<line x1="1770.8" y1="800.5" x2="1817.4" y2="800.5" stroke-width="1.4"/>
<line x1="1770.8" y1="810.3" x2="1817.4" y2="810.3" stroke-width="1.4"/>
<line x1="1722" y1="855.8" x2="1768" y2="855.8" stroke-width="1.4"/>
<line x1="1722" y1="936.7" x2="1768" y2="936.7" stroke-width="1.4"/>
<line x1="1772" y1="977.5" x2="1865" y2="977.5" stroke-width="1.4"/>
<line x1="1722" y1="997.4" x2="1865" y2="997.4" stroke-width="1.4"/>
<text x="856.46" y="327.8" font-size="24.14" textLength="71.45" lengthAdjust="spacingAndGlyphs">15 ST</text>
<text x="856.28" y="356.1" font-size="24.14" textLength="121.66" lengthAdjust="spacingAndGlyphs">18,0/26,0</text>
<text transform="translate(1009 374) rotate(-90)" x="-1.1" y="0" font-size="25.71" textLength="28.08" lengthAdjust="spacingAndGlyphs">80</text>
<text transform="translate(1039.6 374) rotate(-90)" x="-1.29" y="0" font-size="25.14" textLength="28.28" lengthAdjust="spacingAndGlyphs">60</text>
<text transform="translate(1110.6 421) rotate(-90)" x="-1.93" y="0" font-size="26.57" textLength="42.32" lengthAdjust="spacingAndGlyphs">100</text>
<text transform="translate(1143.6 421) rotate(-90)" x="-1.25" y="0" font-size="27.14" textLength="41.63" lengthAdjust="spacingAndGlyphs">200</text>
<text x="581.26" y="537.8" font-size="29.94" textLength="118.78" lengthAdjust="spacingAndGlyphs">KELLER</text>
<text x="581.41" y="564.6" font-size="22.62" textLength="85.92" lengthAdjust="spacingAndGlyphs">Fliesen</text>
<text x="581.91" y="591.3" font-size="24.29" textLength="104.85" lengthAdjust="spacingAndGlyphs">7,80 m2</text>
<text x="980.33" y="481" font-size="30.52" textLength="147.94" lengthAdjust="spacingAndGlyphs">SKIRAUM</text>
<text x="979.61" y="507.5" font-size="22.62" textLength="86.13" lengthAdjust="spacingAndGlyphs">Fliesen</text>
<text x="980.24" y="533.7" font-size="24.71" textLength="104.61" lengthAdjust="spacingAndGlyphs">8,66 m2</text>
<text x="1296.47" y="528.2" font-size="30.52" textLength="118.47" lengthAdjust="spacingAndGlyphs">KELLER</text>
<text x="1296.2" y="554.4" font-size="23.72" textLength="86.34" lengthAdjust="spacingAndGlyphs">Fliesen</text>
<text x="1296.49" y="579.8" font-size="23.43" textLength="120.97" lengthAdjust="spacingAndGlyphs">10,95 m2</text>
<text x="1047.59" y="637.1" font-size="29.94" textLength="94.2" lengthAdjust="spacingAndGlyphs">GANG</text>
<text x="1047.28" y="664" font-size="22.48" textLength="87.07" lengthAdjust="spacingAndGlyphs">Fliesen</text>
<text x="1049.05" y="690" font-size="24" textLength="103.69" lengthAdjust="spacingAndGlyphs">5,78 m2</text>
<text x="576.88" y="771" font-size="30.52" textLength="141.28" lengthAdjust="spacingAndGlyphs">TECHNIK</text>
<text x="577.4" y="797.2" font-size="22.48" textLength="86.34" lengthAdjust="spacingAndGlyphs">Fliesen</text>
<text x="578.21" y="823.4" font-size="24" textLength="120.04" lengthAdjust="spacingAndGlyphs">11,07 m2</text>
<text x="1089.76" y="815.4" font-size="30.81" textLength="169.06" lengthAdjust="spacingAndGlyphs">WELLNESS</text>
<text x="1088.21" y="842.4" font-size="22.76" textLength="86.13" lengthAdjust="spacingAndGlyphs">Fliesen</text>
<text x="1088.71" y="868.8" font-size="24.57" textLength="120.04" lengthAdjust="spacingAndGlyphs">19,70 m2</text>
<text x="905.48" y="891.1" font-size="31.25" textLength="107.48" lengthAdjust="spacingAndGlyphs">SAUNA</text>
<text x="559.69" y="946.2" font-size="23.55" textLength="179.25" lengthAdjust="spacingAndGlyphs">WÄRMEPUMPE</text>
<text x="834.56" y="658.2" font-size="30.57" textLength="84.29" lengthAdjust="spacingAndGlyphs">-2,90</text>
<path d="M544 896.3 L635.3 896.3 L635.3 976" fill="none" stroke-width="1.4"/>
<text x="454.15" y="486.8" font-size="22.86" textLength="44.9" lengthAdjust="spacingAndGlyphs">100</text>
<text x="462.32" y="514.5" font-size="21.43" textLength="30.24" lengthAdjust="spacingAndGlyphs">80</text>
<text x="454.99" y="923" font-size="21.43" textLength="44.04" lengthAdjust="spacingAndGlyphs">100</text>
<text x="462.82" y="950.7" font-size="19.29" textLength="30.24" lengthAdjust="spacingAndGlyphs">80</text>
<text x="1539.28" y="486.4" font-size="24" textLength="46.41" lengthAdjust="spacingAndGlyphs">100</text>
<text x="1546.83" y="514" font-size="23.71" textLength="30.03" lengthAdjust="spacingAndGlyphs">80</text>
<text x="1539.86" y="891.4" font-size="21.71" textLength="46.94" lengthAdjust="spacingAndGlyphs">100</text>
<text x="1547.36" y="919" font-size="20.29" textLength="31.76" lengthAdjust="spacingAndGlyphs">80</text>
<text transform="translate(591.3 1052.3) rotate(-90)" x="-1.91" y="0" font-size="24.29" textLength="41.89" lengthAdjust="spacingAndGlyphs">100</text>
<text transform="translate(623.6 1046.2) rotate(-90)" x="-1.08" y="0" font-size="25.71" textLength="27.76" lengthAdjust="spacingAndGlyphs">80</text>
<text transform="translate(1401.9 1052.4) rotate(-90)" x="-1.96" y="0" font-size="25.71" textLength="42.97" lengthAdjust="spacingAndGlyphs">100</text>
<text transform="translate(1433.3 1046.7) rotate(-90)" x="-1.13" y="0" font-size="25.71" textLength="28.84" lengthAdjust="spacingAndGlyphs">80</text>
<text transform="translate(1007 619.3) rotate(-90)" x="-1.04" y="0" font-size="23.57" textLength="26.57" lengthAdjust="spacingAndGlyphs">80</text>
<text transform="translate(1039.7 620.5) rotate(-90)" x="-1.12" y="0" font-size="23.86" textLength="37.19" lengthAdjust="spacingAndGlyphs">200</text>
<text x="733.39" y="652.8" font-size="22.57" textLength="31" lengthAdjust="spacingAndGlyphs">80</text>
<text x="725.63" y="682" font-size="23.43" textLength="45.43" lengthAdjust="spacingAndGlyphs">200</text>
<text transform="translate(807 726) rotate(-90)" x="-1.07" y="0" font-size="25.71" textLength="27.44" lengthAdjust="spacingAndGlyphs">80</text>
<text transform="translate(838.6 730.8) rotate(-90)" x="-1.24" y="0" font-size="25.71" textLength="41" lengthAdjust="spacingAndGlyphs">200</text>
<text transform="translate(1157.1 726.8) rotate(-90)" x="-1.07" y="0" font-size="25" textLength="27.33" lengthAdjust="spacingAndGlyphs">80</text>
<text transform="translate(1189 730) rotate(-90)" x="-1.26" y="0" font-size="26.71" textLength="41.74" lengthAdjust="spacingAndGlyphs">200</text>
<text x="1200.41" y="653.3" font-size="21.86" textLength="30.35" lengthAdjust="spacingAndGlyphs">80</text>
<text x="1192" y="682.3" font-size="22.71" textLength="46.49" lengthAdjust="spacingAndGlyphs">200</text>
<text x="1260.23" y="643.8" font-size="29.86" textLength="37.46" lengthAdjust="spacingAndGlyphs">12</text>
<text x="1376.21" y="643.8" font-size="28.57" textLength="59.49" lengthAdjust="spacingAndGlyphs">200</text>
<line x1="1296" y1="634.3" x2="1498" y2="634.3" stroke-width="1.5"/>
<line x1="1300.3" y1="638.8" x2="1309.3" y2="629.8" stroke-width="2.1"/>
<line x1="1311.7" y1="638.8" x2="1320.7" y2="629.8" stroke-width="2.1"/>
<line x1="1304.8" y1="634" x2="1304.8" y2="666.7" stroke-width="1.3"/>
<line x1="1316.2" y1="634" x2="1316.2" y2="666.7" stroke-width="1.3"/>
<rect x="1376" y="628" width="60.5" height="12" fill="#f7f8f6" stroke="none"/>
<text x="1376.21" y="643.8" font-size="28.57" textLength="59.49" lengthAdjust="spacingAndGlyphs">200</text>
<text transform="translate(796.4 579.8) rotate(-90)" x="-1.68" y="0" font-size="24.85" textLength="58.99" lengthAdjust="spacingAndGlyphs">17 ST</text>
<text transform="translate(829.4 579.8) rotate(-90)" x="-2.01" y="0" font-size="26.43" textLength="109.95" lengthAdjust="spacingAndGlyphs">17,1/27,8</text>
</g>
</g>
</svg>
</body></html>
